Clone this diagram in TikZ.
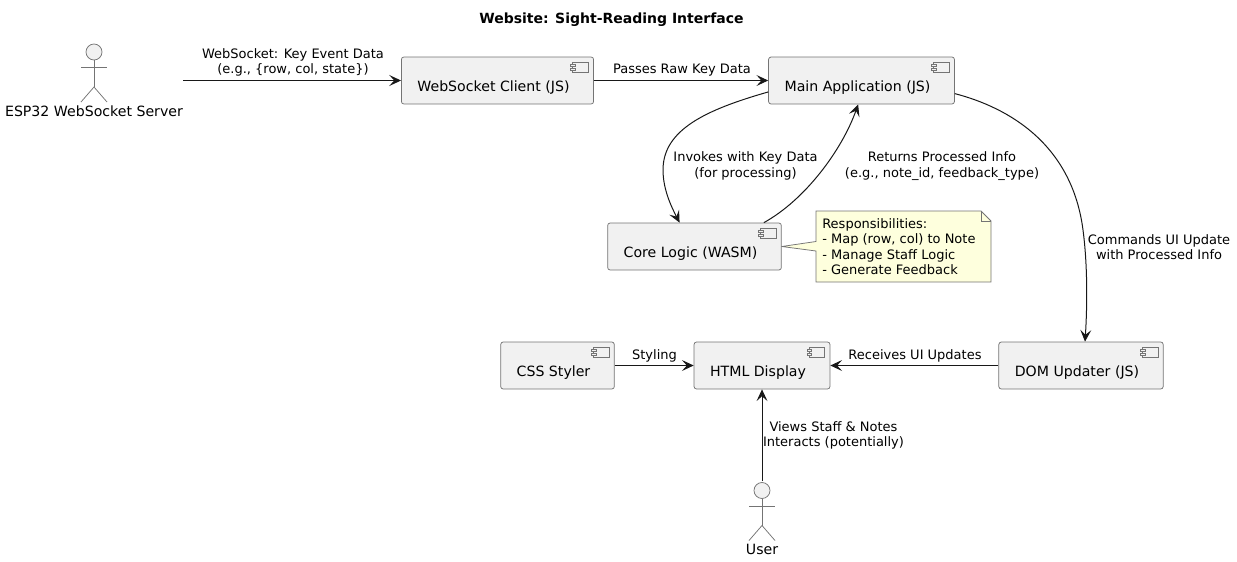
\documentclass[tikz,border=0pt]{standalone}
\usepackage{fontspec}
\setmainfont{DejaVu Sans}
\usetikzlibrary{arrows.meta, positioning, backgrounds}
\newlength{\px}
\setlength{\px}{0.75pt}
\definecolor{linegray}{HTML}{181818}
\definecolor{boxgray}{HTML}{F1F1F1}
\definecolor{noteyellow}{HTML}{FEFFDD}
\colorlet{boxline}{linegray!60}

\begin{document}
\begin{tikzpicture}[
  x=1\px, y=-1\px, node distance=0pt,
  component/.style={rectangle, rounded corners=2.5\px, draw=boxline, line width=0.75\px, fill=boxgray, text=black, font=\fontsize{10.6pt}{12pt}\selectfont, inner xsep=16\px, inner ysep=5\px, text height=29\px, text depth=8\px, execute at end node={\hspace*{8\px}},
    path picture={
      \draw [sharp corners, draw=boxline, line width=0.7\px] ([xshift=-21\px, yshift=-5.3\px]path picture bounding box.north east) rectangle ([xshift=-5.3\px, yshift=-15.7\px]path picture bounding box.north east);
      \draw [sharp corners, draw=boxline, line width=0.7\px, fill=boxgray] ([xshift=-23\px, yshift=-7.3\px]path picture bounding box.north east) rectangle ([xshift=-18.3\px, yshift=-9.7\px]path picture bounding box.north east);
      \draw [sharp corners, draw=boxline, line width=0.7\px, fill=boxgray] ([xshift=-23\px, yshift=-11.3\px]path picture bounding box.north east) rectangle ([xshift=-18.3\px, yshift=-13.7\px]path picture bounding box.north east);
    }},
  actor/.style={rectangle, inner xsep=0pt, inner ysep=0pt, text=black, font=\fontsize{10.6pt}{12pt}\selectfont, text height=73\px, text depth=2\px,
    path picture={
      \coordinate (pp) at (path picture bounding box.north);
      \draw [draw=boxline, line width=0.75\px, fill=boxgray] ([yshift=-9\px]pp) circle (8\px);
      \draw [draw=boxline, line width=0.75\px] ([yshift=-17\px]pp) -- ([yshift=-44\px]pp);
      \draw [draw=boxline, line width=0.75\px] ([xshift=-13\px, yshift=-24.5\px]pp) -- ([xshift=13\px, yshift=-24.5\px]pp);
      \draw [draw=boxline, line width=0.75\px] ([xshift=-13\px, yshift=-59\px]pp) -- ([yshift=-44\px]pp) -- ([xshift=13\px, yshift=-59\px]pp);
    }},
  edgelabel/.style={align=center, inner sep=0pt, text=black, font=\fontsize{9.75pt}{11.4pt}\selectfont},
  notetext/.style={align=left, inner sep=0pt, text=black, font=\fontsize{9.75pt}{11.4pt}\selectfont},
  title/.style={inner sep=0pt, text=black, font=\fontsize{10.5pt}{12pt}\selectfont\bfseries},
  arrow/.style={draw=linegray, line width=1\px, -{Stealth[length=8.8pt, width=8.2pt, inset=3.7pt]}}]

  \useasboundingbox (0,0) rectangle (1237,561);

  % Nodes
  \node (title) [title] at (611.5,19.5) {Website: Sight-Reading Interface};
  \node (esp) [actor] at (94,80.5) {ESP32 WebSocket Server};
  \node (client) [component, right of=esp, xshift=403.5\px] {WebSocket Client (JS)};
  \node (main) [component, right of=client, xshift=364\px] {Main Application (JS)};
  \node (core) [component, below of=main, xshift=-167\px, yshift=-166\px] {Core Logic (WASM)};
  \node (html) [component, below of=core, xshift=67.5\px, yshift=-119\px] {HTML Display};
  \node (css) [component, left of=html, xshift=-204.5\px] {CSS Styler};
  \node (dom) [component, right of=html, xshift=319\px] {DOM Updater (JS)};
  \node (user) [actor, below of=html, yshift=-153.5\px] {User};

  \node (note) [notetext, anchor=north west] at (822,218.5) {Responsibilities:\\- Map (row, col) to Note\\- Manage Staff Logic\\- Generate Feedback};

  % Labels
  \node (lblkey) [edgelabel] at (293,62.5) {WebSocket: Key Event Data\\(e.g., \{row, col, state\})};
  \node (lblraw) [edgelabel] at (682,70) {Passes Raw Key Data};
  \node (lblinvoke) [edgelabel] at (745.5,166) {Invokes with Key Data\\(for processing)};
  \node (lblreturn) [edgelabel] at (942,166) {Returns Processed Info\\(e.g., note\_id, feedback\_type)};
  \node (lblcmd) [edgelabel] at (1159,247.5) {Commands UI Update\\with Processed Info};
  \node (lblstyle) [edgelabel] at (654.5,356) {Styling};
  \node (lblupdate) [edgelabel] at (915,356) {Receives UI Updates};
  \node (lblviews) [edgelabel] at (833.5,435.5) {Views Staff \& Notes\\Interacts (potentially)};

  % Note outline
  \begin{pgfonlayer}{background}
    \draw [draw=boxline, line width=0.75\px, fill=noteyellow] (core.east) -- (816,241.5) -- (816,211) -- (981,211) -- (991,221) -- (991,282) -- (816,282) -- (816,251) -- cycle;
    \draw [draw=boxline, line width=0.75\px] (981,211) -- (981,221) -- (991,221);
  \end{pgfonlayer}

  % Arrows
  \draw [arrow] (esp.east) -- (client.west);
  \draw [arrow] (client.east) -- (main.west);
  \draw [arrow] (main.187) .. controls (705,110) and (663,130) .. (663,170) .. controls (663,190) and (672,208) .. (core.122);
  \draw [arrow] (core.19) .. controls (805,200) and (842,150) .. (main.262);
  \draw [arrow] (main.-8) .. controls (1010,108) and (1072,145) .. (1083,230) .. controls (1088,268) and (1087,310) .. ([xshift=4\px]dom.north);
  \draw [arrow] (css.east) -- (html.west);
  \draw [arrow] (dom.west) -- (html.east);
  \draw [arrow] (user.north) -- (html.south);

\end{tikzpicture}
\end{document}
